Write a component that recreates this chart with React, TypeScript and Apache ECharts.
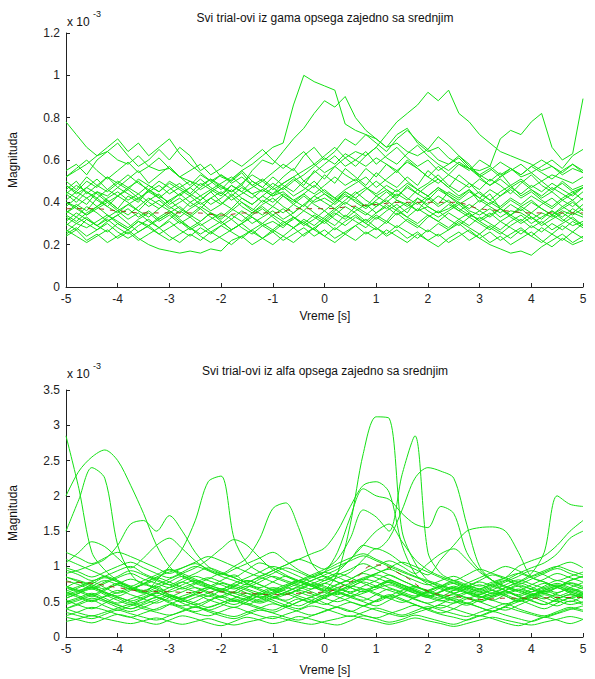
import React, { useEffect, useRef } from "react";
import * as echarts from "echarts";

// ---- Titles / labels ----
const titleGama = "Svi trial-ovi iz gama opsega zajedno sa srednjim";
const titleAlfa = "Svi trial-ovi iz alfa opsega zajedno sa srednjim";
const xLabel = "Vreme [s]";
const yLabel = "Magnituda";

// ---- Gama trials: 51 samples from -5 s to 5 s (step 0.2 s), values in 0.01 x 10^-3 ----
const gamaStep = 0.2;
const g1 = [78,72,66,62,64,60,58,62,57,55, 56,52,50,48,51,47,45,48,44,46, 43,45,41,44,40,42,39,43,41,38, 40,37,41,39,36,38,35,37,40,36, 34,37,33,36,35,32,35,33,36,34,37];
const g2 = [45,42,47,44,40,43,46,42,45,48, 44,47,50,46,49,53,50,55,58,62, 66,68,86,100,97,95,93,77,74,72, 70,66,68,64,62,65,60,58,61,56, 55,57,53,56,52,54,50,53,51,49,52];
const g3 = [40,38,42,45,43,47,44,41,46,43, 40,44,47,43,46,49,52,48,55,60, 58,64,70,75,82,88,85,90,80,74, 70,66,72,75,68,64,66,61,58,56, 53,50,54,48,51,47,50,46,49,45,47];
const g4 = [35,38,34,37,40,36,39,42,38,41, 37,40,43,39,42,45,41,44,47,50, 46,49,52,55,58,54,57,61,64,62, 66,72,78,82,86,92,88,93,82,78, 72,68,64,62,60,58,55,57,53,56,54];
const g5 = [48,45,50,47,52,49,46,51,48,45, 50,47,44,49,46,43,48,45,50,47, 44,49,52,48,55,51,57,53,50,56, 52,58,54,60,56,52,57,53,58,55, 60,57,70,74,72,78,82,66,60,63,89];
const g6 = [55,58,53,60,64,68,62,57,60,65, 60,66,62,55,58,52,50,54,48,51, 47,52,56,50,54,58,62,57,60,64, 58,62,66,61,57,60,55,58,62,57, 53,56,52,55,58,54,57,60,56,62,65];
const g7 = [46,50,44,48,52,47,51,55,49,53, 57,52,48,53,50,46,51,55,50,47, 52,48,45,50,47,53,49,56,52,48, 54,50,47,52,48,55,51,47,53,49, 46,51,48,44,49,53,48,45,50,46,48];
const g8 = [36,33,38,35,31,34,37,33,36,32, 35,38,34,31,35,33,37,34,30,33, 36,32,35,39,35,32,36,40,37,34, 38,41,37,40,36,42,38,41,37,34, 32,35,31,34,37,33,30,34,31,35,33];
const g9 = [30,27,32,29,26,30,27,31,28,25, 28,31,27,30,26,29,32,28,25,29, 31,28,33,30,27,32,29,34,31,28, 33,30,35,31,28,33,36,32,29,33, 30,27,31,28,25,29,26,30,27,31,28];
const g10 = [44,40,45,41,38,43,40,36,41,44, 39,42,38,41,45,40,37,42,39,43, 40,44,41,38,43,46,42,39,44,47, 43,46,42,48,44,41,46,43,39,42, 45,41,38,42,39,43,40,37,41,38,42];
const g11 = [24,27,22,25,21,24,27,23,20,18, 17,16,17,16,18,17,22,24,20,23, 26,22,25,28,24,27,23,26,29,25, 28,24,27,23,26,22,25,21,24,27, 23,20,18,16,17,15,19,22,25,21,24];
const g12 = [40,37,34,38,41,37,34,38,42,39, 36,33,37,40,36,39,43,38,35,39, 42,38,35,39,43,40,37,41,45,41, 38,42,46,42,39,43,47,43,40,37, 41,38,35,39,36,40,37,34,38,35,39];
const g13 = [33,30,28,31,34,30,27,31,29,32, 35,31,28,25,28,31,27,30,33,29, 26,30,33,29,32,36,32,29,33,30, 34,31,37,33,30,34,31,28,32,35, 31,28,25,29,32,28,31,27,30,33,29];
const g14 = [48,44,47,51,46,43,47,50,45,42, 46,49,44,41,45,48,43,47,44,40, 44,47,43,46,50,45,42,46,49,52, 47,51,55,50,46,49,53,48,45,49, 44,41,45,48,43,46,42,45,41,44,47];
const g15 = [27,24,21,24,27,23,26,22,25,28, 24,21,25,22,26,23,20,24,27,23, 20,24,21,25,28,24,21,25,22,26, 23,27,24,21,25,22,19,23,26,22, 25,21,24,20,23,26,22,19,23,20,22];
const g16 = [31,35,32,29,33,36,32,35,31,28, 32,36,33,37,33,30,34,31,35,38, 34,31,28,32,29,33,37,33,38,35, 32,36,39,35,42,38,35,39,36,33, 36,33,37,34,31,35,32,36,33,37,34];
const g17 = [38,42,39,45,41,37,43,40,46,42, 38,35,40,37,42,39,44,40,36,41, 38,43,39,36,41,44,40,45,42,38, 43,40,44,41,46,43,39,45,42,46, 40,44,37,41,38,35,39,42,38,41,36];
const g18 = [29,33,30,27,31,34,30,26,29,33, 36,32,28,31,35,31,27,30,34,37, 33,29,32,36,33,30,34,38,35,31, 35,39,36,33,37,34,31,35,32,29, 33,30,27,31,34,30,33,36,32,29,31];
const g19 = [35,39,36,42,38,35,39,36,33,37, 41,37,34,38,35,32,36,40,37,34, 38,35,39,43,39,36,40,44,40,37, 41,45,41,38,42,39,43,40,36,39, 36,40,37,34,38,41,37,34,37,40,36];
const g20 = [50,46,52,48,45,49,53,49,46,50, 47,43,47,51,47,44,48,45,42,46, 43,47,51,47,44,48,52,48,51,47, 44,48,45,49,46,43,47,44,41,45, 42,46,43,47,50,46,43,47,44,41,45];
const g21 = [25,28,24,27,30,26,23,26,29,25, 22,25,28,24,21,24,27,30,26,23, 27,24,28,31,27,24,28,25,29,32, 28,25,29,26,23,27,24,27,30,26, 23,26,22,25,28,24,21,25,22,26,23];
const g22 = [34,31,35,38,34,31,28,32,35,31, 34,30,33,29,32,35,32,36,33,30, 34,37,33,30,34,31,35,32,36,39, 35,38,34,37,40,36,33,36,39,35, 31,34,37,33,30,33,29,32,35,32,29];
const g23 = [41,45,42,38,42,45,41,44,40,37, 41,44,40,43,39,42,46,42,39,43, 47,43,40,44,48,44,41,45,42,46, 50,46,43,47,44,48,51,47,43,46, 42,39,43,46,42,45,41,38,42,45,41];
const g24 = [26,30,33,29,32,28,25,29,32,28, 31,27,24,28,25,29,26,23,27,30, 27,31,28,24,28,31,27,31,34,30, 27,31,28,32,29,26,30,27,31,28, 25,29,26,23,27,24,28,25,29,26,30];
const g25 = [52,56,60,55,51,55,59,54,57,61, 56,52,55,58,53,56,60,57,61,65, 60,56,60,64,58,62,66,61,57,62, 66,61,58,63,67,62,58,55,59,56, 52,55,59,56,53,57,54,51,55,58,54];
const g26 = [44,48,45,42,46,50,47,44,48,45, 49,46,43,47,51,48,45,49,53,50, 54,58,55,62,66,60,64,70,67,72, 68,64,70,74,69,65,71,67,62,58, 52,48,51,47,44,48,45,49,46,43,47];
const g27 = [52,55,58,62,66,70,64,68,62,66, 70,63,58,54,50,53,49,52,48,45, 49,46,50,53,57,61,58,63,60,57, 61,58,55,59,56,52,49,53,50,47, 51,48,52,56,53,57,60,57,54,58,55];
const gamaTrials = [g1,g2,g3,g4,g5,g6,g7,g8,g9,g10,g11,g12,g13,g14,g15,g16,g17,g18,g19,g20,g21,g22,g23,g24,g25,g26,g27];
// mean of the gama trials, every 0.5 s
const gamaMean = [37,37,36,35,35,35,34,35,35,37,37,38,39,40,40,40,37,36,35,35,35];

// ---- Alfa trials: 41 samples from -5 s to 5 s (step 0.25 s), values in 0.01 x 10^-3 ----
const alfaStep = 0.25;
const a1 = [285,210,120,95,80,70,65,72,60,55, 62,70,65,58,52,60,68,62,55,50, 58,65,72,68,60,55,62,70,64,58, 52,48,55,62,58,50,56,62,55,50,58];
const a2 = [200,235,255,265,250,215,175,130,100,85, 78,72,80,88,75,68,62,70,78,72, 65,70,76,82,78,70,64,58,66,72, 68,62,56,60,66,72,68,62,58,64,70];
const a3 = [150,195,240,225,130,90,75,82,95,88, 76,70,64,72,80,74,66,60,68,75, 70,64,58,66,72,80,74,66,60,55, 62,68,74,66,60,54,60,66,72,64,58];
const a4 = [90,95,102,110,130,160,165,150,172,150, 120,100,90,85,95,105,98,88,80,86, 92,85,78,84,90,96,88,80,74,80, 86,78,72,78,84,90,84,78,72,80,86];
const a5 = [70,64,58,66,74,68,62,80,100,125, 165,220,228,140,105,92,85,78,72,80, 86,78,70,64,72,80,74,68,62,70, 76,70,64,58,66,74,68,62,70,76,70];
const a6 = [60,66,72,80,74,68,75,85,92,98, 104,96,90,100,112,140,182,190,155,105, 85,78,70,64,72,78,70,62,56,64, 70,64,58,52,60,66,60,54,62,68,62];
const a7 = [55,62,68,60,52,46,54,62,56,48, 42,50,58,52,46,54,62,70,64,58, 66,90,160,260,312,310,150,105,80,70, 62,56,50,58,64,58,52,46,54,60,55];
const a8 = [80,74,68,76,84,90,82,76,70,78, 86,80,74,68,76,84,78,72,80,88, 96,110,140,180,170,150,230,285,120,90, 80,72,66,74,80,72,64,70,76,70,64];
const a9 = [65,72,78,70,62,68,76,84,78,70, 64,58,66,74,68,62,56,64,72,80, 88,96,110,130,125,140,180,225,240,235, 225,160,100,80,70,64,58,66,72,66,60];
const a10 = [50,56,62,55,48,54,60,66,58,52, 46,52,58,64,58,52,60,68,76,84, 92,120,170,210,200,195,175,160,155,185, 175,120,95,80,72,66,60,68,74,68,62];
const a11 = [72,66,60,68,76,70,64,58,66,74, 80,74,68,62,70,78,86,80,74,68, 76,84,92,110,125,118,105,96,88,110, 130,150,155,156,150,120,85,78,72,80,86];
const a12 = [48,54,60,52,46,40,48,56,50,44, 50,58,52,46,54,62,56,50,44,52, 60,68,62,56,50,58,66,72,64,58, 66,72,68,62,70,78,90,120,200,188,185];
const a13 = [40,46,52,44,38,44,50,56,48,42, 36,42,48,54,48,42,38,46,54,48, 56,64,58,52,60,68,62,56,64,72, 80,74,68,76,84,100,108,115,130,150,165];
const a14 = [55,62,70,62,55,48,55,62,70,78, 70,62,56,64,72,66,58,52,60,68, 76,70,64,72,80,88,80,72,66,72, 78,70,64,72,80,90,98,105,118,140,150];
const a15 = [85,78,70,78,86,94,88,80,74,82, 90,98,92,84,78,86,94,102,110,118, 126,150,185,215,220,205,130,90,75,68, 62,70,78,72,66,60,68,76,70,64,58];
const a16 = [52,45,40,48,56,50,43,38,46,54, 60,53,47,42,50,58,52,45,40,48, 55,62,56,50,44,52,60,54,47,41, 48,56,50,43,38,45,53,60,52,46,50];
const a17 = [35,30,26,32,38,33,28,24,30,36, 42,36,30,26,32,38,34,28,24,30, 36,42,37,31,27,33,39,45,38,32, 28,24,30,36,31,26,22,28,34,40,36];
const a18 = [95,88,80,86,94,100,90,82,74,68, 75,82,90,84,76,70,78,86,80,72, 80,88,96,104,96,88,80,72,66,60, 55,62,68,74,66,58,64,72,80,74,68];
const a19 = [70,78,72,64,58,66,74,68,60,54, 60,68,76,70,62,56,64,72,80,74, 66,60,70,80,88,82,74,66,58,52, 48,54,60,66,58,52,58,64,70,62,56];
const a20 = [28,24,20,26,32,28,22,18,24,30, 26,20,16,22,28,24,19,23,29,25, 20,17,23,30,26,21,25,31,27,22, 18,24,30,26,20,16,22,28,24,19,25];
const a21 = [40,48,55,50,42,36,42,50,58,52, 45,38,44,52,46,40,35,42,50,56, 48,42,36,44,52,60,54,46,40,34, 40,48,42,36,44,52,46,40,48,55,48];
const a22 = [110,102,94,86,78,72,80,88,96,90, 82,74,68,76,84,92,100,94,86,78, 72,66,74,82,90,98,106,100,92,84, 76,68,62,70,78,86,94,88,80,86,92];
const a23 = [62,56,50,58,66,60,54,48,56,64, 70,64,57,50,56,63,70,65,58,52, 46,54,62,68,62,55,49,56,63,57, 51,45,52,58,64,57,51,46,53,60,55];
const a24 = [30,36,42,38,32,28,34,40,46,40, 34,30,36,42,36,30,26,32,38,44, 40,34,29,35,41,36,31,37,43,38, 33,29,35,41,47,40,34,30,36,42,38];
const a25 = [85,80,74,68,75,82,76,70,64,70, 77,84,78,72,66,60,67,74,80,74, 68,75,82,90,84,77,70,64,58,65, 72,66,60,67,74,81,75,69,63,70,77];
const a26 = [46,52,58,52,45,40,46,53,60,54, 48,42,48,55,62,56,49,43,50,57, 63,57,50,44,51,58,52,46,40,47, 54,48,42,37,43,50,56,50,44,51,46];
const a27 = [72,66,75,84,78,70,63,70,78,86, 80,72,65,72,80,74,67,60,67,75, 83,90,84,76,70,78,72,65,58,64, 70,63,57,63,70,77,71,64,70,77,72];
const a28 = [40,34,30,35,41,46,40,35,31,37, 43,38,33,29,35,41,47,42,36,31, 37,43,49,44,38,33,29,34,40,45, 40,34,30,36,42,37,32,28,33,39,44];
const a29 = [98,92,85,92,100,106,98,90,84,92, 100,94,86,80,74,82,90,98,92,85, 92,100,108,115,108,100,92,85,78,72, 66,72,80,88,82,75,82,90,97,90,84];
const a30 = [58,64,70,63,57,51,57,63,56,50, 56,62,68,62,56,50,56,63,70,64, 58,64,71,78,72,66,60,53,48,54, 60,55,50,56,62,68,62,56,50,56,62];
const a31 = [22,26,30,26,22,19,23,27,22,18, 22,26,21,17,21,25,29,25,21,18, 22,26,30,26,22,18,22,27,23,19, 15,19,24,28,24,20,17,21,25,29,25];
const a32 = [120,112,104,112,120,114,106,98,90,98, 106,114,108,100,92,86,94,102,110,104, 96,104,112,118,110,102,94,86,80,74, 68,76,84,92,100,94,86,92,100,106,98];
const a33 = [64,58,52,57,63,69,63,57,52,58, 64,70,64,58,53,48,54,60,66,61, 55,50,56,62,68,74,68,62,56,51, 57,63,58,52,47,53,59,65,60,55,61];
const a34 = [105,120,135,128,112,98,112,130,140,125, 108,95,88,96,104,112,120,108,95,86, 80,92,110,130,150,160,135,110,95,86, 80,88,96,90,84,78,86,94,100,94,88];
const a35 = [62,70,78,86,80,72,66,74,82,90, 98,110,125,138,130,112,95,86,78,72, 66,74,82,92,100,108,100,90,104,118, 125,110,92,80,72,66,74,82,90,84,78];
const alfaTrials = [a1,a2,a3,a4,a5,a6,a7,a8,a9,a10,a11,a12,a13,a14,a15,a16,a17,a18,a19,a20,a21,a22,a23,a24,a25,a26,a27,a28,a29,a30,a31,a32,a33,a34,a35];
// mean of the alfa trials, every 0.5 s
const alfaMean = [78,76,70,65,64,63,64,62,60,62,64,78,102,88,65,58,53,55,55,56,56];
const meanStep = 0.5;

const TRIAL_COLOR = "#14e014";
const MEAN_COLOR = "#9a3a14";
const FONT = "Liberation Sans, Arial, sans-serif";

function pairs(vals: number[], step: number) {
  return vals.map((v, i) => [-5 + i * step, v / 100]);
}

export default function App() {
  const ref = useRef<HTMLDivElement>(null);
  useEffect(() => {
    if (!ref.current) return;
    const chart = echarts.init(ref.current, null, { renderer: "svg" });
    const grids = [
      { left: 66, right: 12, top: 33, height: 254 },
      { left: 66, right: 12, top: 390, height: 247 },
    ];
    const xAxisBase = (gi: number) => ({
      type: "value",
      gridIndex: gi,
      min: -5,
      max: 5,
      interval: 1,
      axisLine: { show: true, onZero: false, lineStyle: { color: "#222", width: 1 } },
      axisTick: { show: true, inside: true, length: 4, lineStyle: { color: "#222" } },
      axisLabel: { color: "#222", fontSize: 12, fontFamily: FONT, margin: 6, formatter: (v: number) => String(v) },
      splitLine: { show: false },
    });
    const yAxisBase = (gi: number, max: number, interval: number) => ({
      type: "value",
      gridIndex: gi,
      min: 0,
      max,
      interval,
      axisLine: { show: true, onZero: false, lineStyle: { color: "#222", width: 1 } },
      axisTick: { show: true, inside: true, length: 4, lineStyle: { color: "#222" } },
      axisLabel: { color: "#222", fontSize: 12, fontFamily: FONT, margin: 6, formatter: (v: number) => String(+v.toFixed(2)) },
      splitLine: { show: false },
    });
    const series: any[] = [];
    gamaTrials.forEach((t, i) =>
      series.push({
        type: "line", name: "g" + i, xAxisIndex: 0, yAxisIndex: 0, data: pairs(t, gamaStep),
        showSymbol: false, silent: true, lineStyle: { color: TRIAL_COLOR, width: 1 }, itemStyle: { color: TRIAL_COLOR },
      })
    );
    series.push({
      type: "line", name: "gmean", xAxisIndex: 0, yAxisIndex: 0, data: pairs(gamaMean, meanStep), smooth: true,
      showSymbol: false, silent: true, lineStyle: { color: MEAN_COLOR, width: 1, type: [5, 6] }, z: 5,
    });
    alfaTrials.forEach((t, i) =>
      series.push({
        type: "line", name: "a" + i, xAxisIndex: 1, yAxisIndex: 1, data: pairs(t, alfaStep), smooth: 0.3,
        showSymbol: false, silent: true, lineStyle: { color: TRIAL_COLOR, width: 1 }, itemStyle: { color: TRIAL_COLOR },
      })
    );
    series.push({
      type: "line", name: "amean", xAxisIndex: 1, yAxisIndex: 1, data: pairs(alfaMean, meanStep), smooth: true,
      showSymbol: false, silent: true, lineStyle: { color: MEAN_COLOR, width: 1, type: [5, 6] }, z: 5,
    });

    const txt = (x: number, y: number, text: string) => ({
      type: "text", x, y, style: { text, fill: "#111", font: `12px ${FONT}`, textAlign: "center", textVerticalAlign: "middle" },
    });
    const ylab = (y: number) => ({
      type: "text", x: 13, y, rotation: Math.PI / 2,
      style: { text: yLabel, fill: "#111", font: `12px ${FONT}`, textAlign: "center", textVerticalAlign: "middle" },
    });
    const exp = (y: number) => [
      { type: "text", x: 67, y: y, style: { text: "x 10", fill: "#111", font: `12px ${FONT}`, textAlign: "left", textVerticalAlign: "middle" } },
      { type: "text", x: 93, y: y - 8, style: { text: "-3", fill: "#111", font: `9px ${FONT}`, textAlign: "left", textVerticalAlign: "middle" } },
    ];
    chart.setOption({
      animation: false,
      backgroundColor: "#fff",
      grid: grids,
      xAxis: [xAxisBase(0), xAxisBase(1)],
      yAxis: [yAxisBase(0, 1.2, 0.2), yAxisBase(1, 3.5, 0.5)],
      series,
      graphic: [
        txt(325, 18, titleGama),
        txt(325, 371, titleAlfa),
        txt(325, 316, xLabel),
        txt(325, 670, xLabel),
        ylab(160),
        ylab(513),
        ...exp(22),
        ...exp(374),
      ],
    });
    return () => chart.dispose();
  }, []);
  return <div ref={ref} style={{ width: 595, height: 679, position: "absolute", left: 0, top: 0, background: "#fff" }} />;
}
